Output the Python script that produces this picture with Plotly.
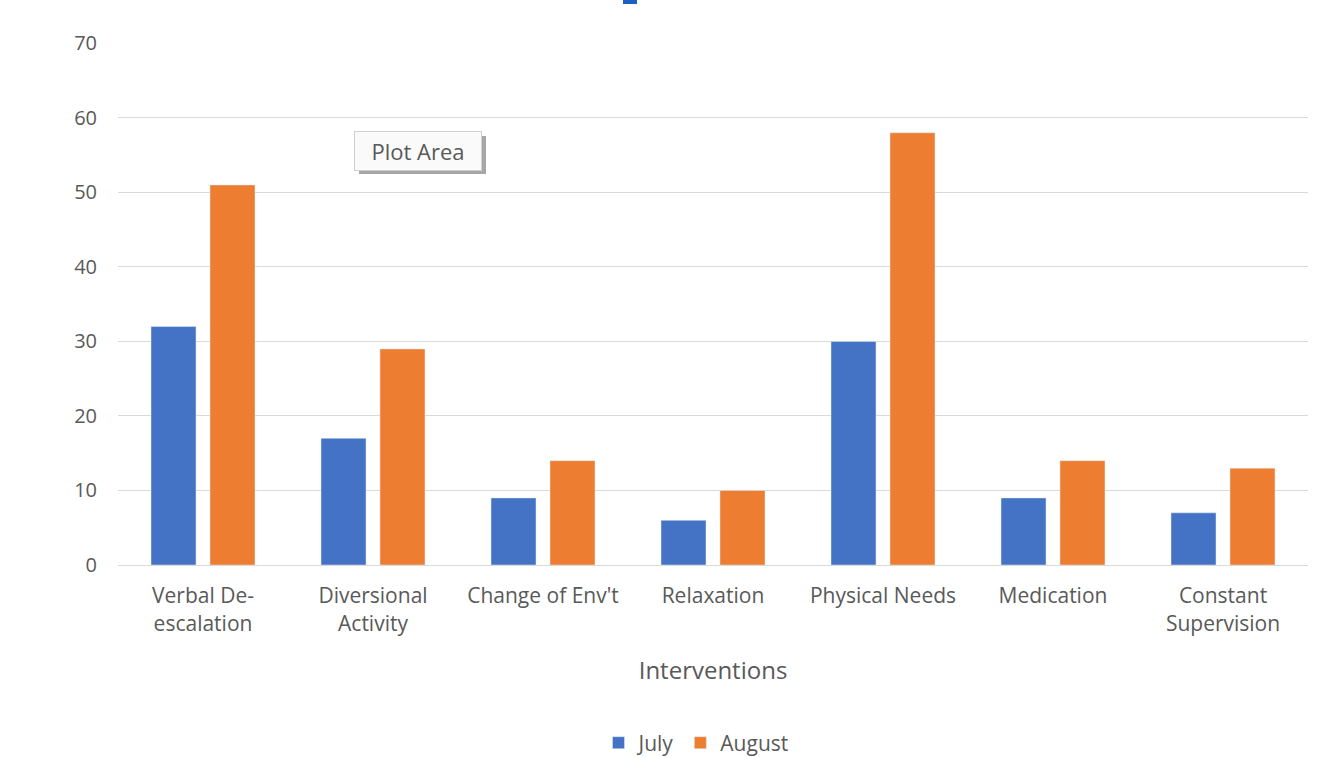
import plotly.graph_objects as go

categories = ["Verbal De-<br>escalation", "Diversional<br>Activity", "Change of Env't",
              "Relaxation", "Physical Needs", "Medication", "Constant<br>Supervision"]
july = [32, 17, 9, 6, 30, 9, 7]
august = [51, 29, 14, 10, 58, 14, 13]
y_ticks = [0, 10, 20, 30, 40, 50, 60, 70]

W, H = 1329, 758
L, R, T, B = 118, 21, 43, 193
pw, ph = W - L - R, H - T - B

def px_x(x):
    return (x - L) / pw

def px_y(y):
    return (H - B - y) / ph

FONT = "Open Sans"
GREY = "#595959"

fig = go.Figure()
fig.add_trace(go.Bar(x=categories, y=july, name="July", marker_color="#4472C4"))
fig.add_trace(go.Bar(x=categories, y=august, name="August", marker_color="#ED7D31"))

fig.update_layout(
    width=W, height=H,
    margin=dict(l=L, r=R, t=T, b=B, autoexpand=False),
    paper_bgcolor="white", plot_bgcolor="white",
    barmode="group", bargap=0.306, bargroupgap=0.237,
    font=dict(family=FONT, color=GREY, size=19),
    showlegend=True,
    legend=dict(orientation="h", x=px_x(696), xanchor="center", y=px_y(743), yanchor="middle",
                font=dict(size=21, color=GREY), itemwidth=30, traceorder="normal"),
    xaxis=dict(showgrid=False, showline=True, linecolor="#D9D9D9", linewidth=1,
               automargin=False,
               ticks="", tickfont=dict(size=21, color=GREY), ticklabelstandoff=12,
               title=dict(text="Interventions", font=dict(size=24, color=GREY), standoff=26)),
    yaxis=dict(range=[0, 70.05], tickvals=y_ticks, showgrid=True, gridcolor="#D9D9D9",
               gridwidth=1, zeroline=False, showline=False, automargin=False,
               tickfont=dict(size=20, color=GREY), ticklabelstandoff=20),
)

# Excel "Plot Area" tooltip: shadow shape + box
fig.add_shape(type="rect", xref="paper", yref="paper",
              x0=px_x(359), x1=px_x(486), y0=px_y(174), y1=px_y(136),
              fillcolor="#A6A6A6", line=dict(width=0), layer="above")
fig.add_annotation(x=px_x(418), y=px_y(150.5), xref="paper", yref="paper", text="Plot Area",
                   xanchor="center", yanchor="middle", width=122, height=34,
                   showarrow=False, font=dict(size=22, color=GREY, family=FONT),
                   bgcolor="#FAFAFA", borderpad=2, bordercolor="#D0D0D0", borderwidth=1)

# cut-off title mark at top edge
fig.add_shape(type="rect", xref="paper", yref="paper",
              x0=px_x(623), x1=px_x(637), y0=px_y(4), y1=px_y(-2),
              fillcolor="#1F5FC4", line=dict(width=0))

fig.write_html("out.html")
